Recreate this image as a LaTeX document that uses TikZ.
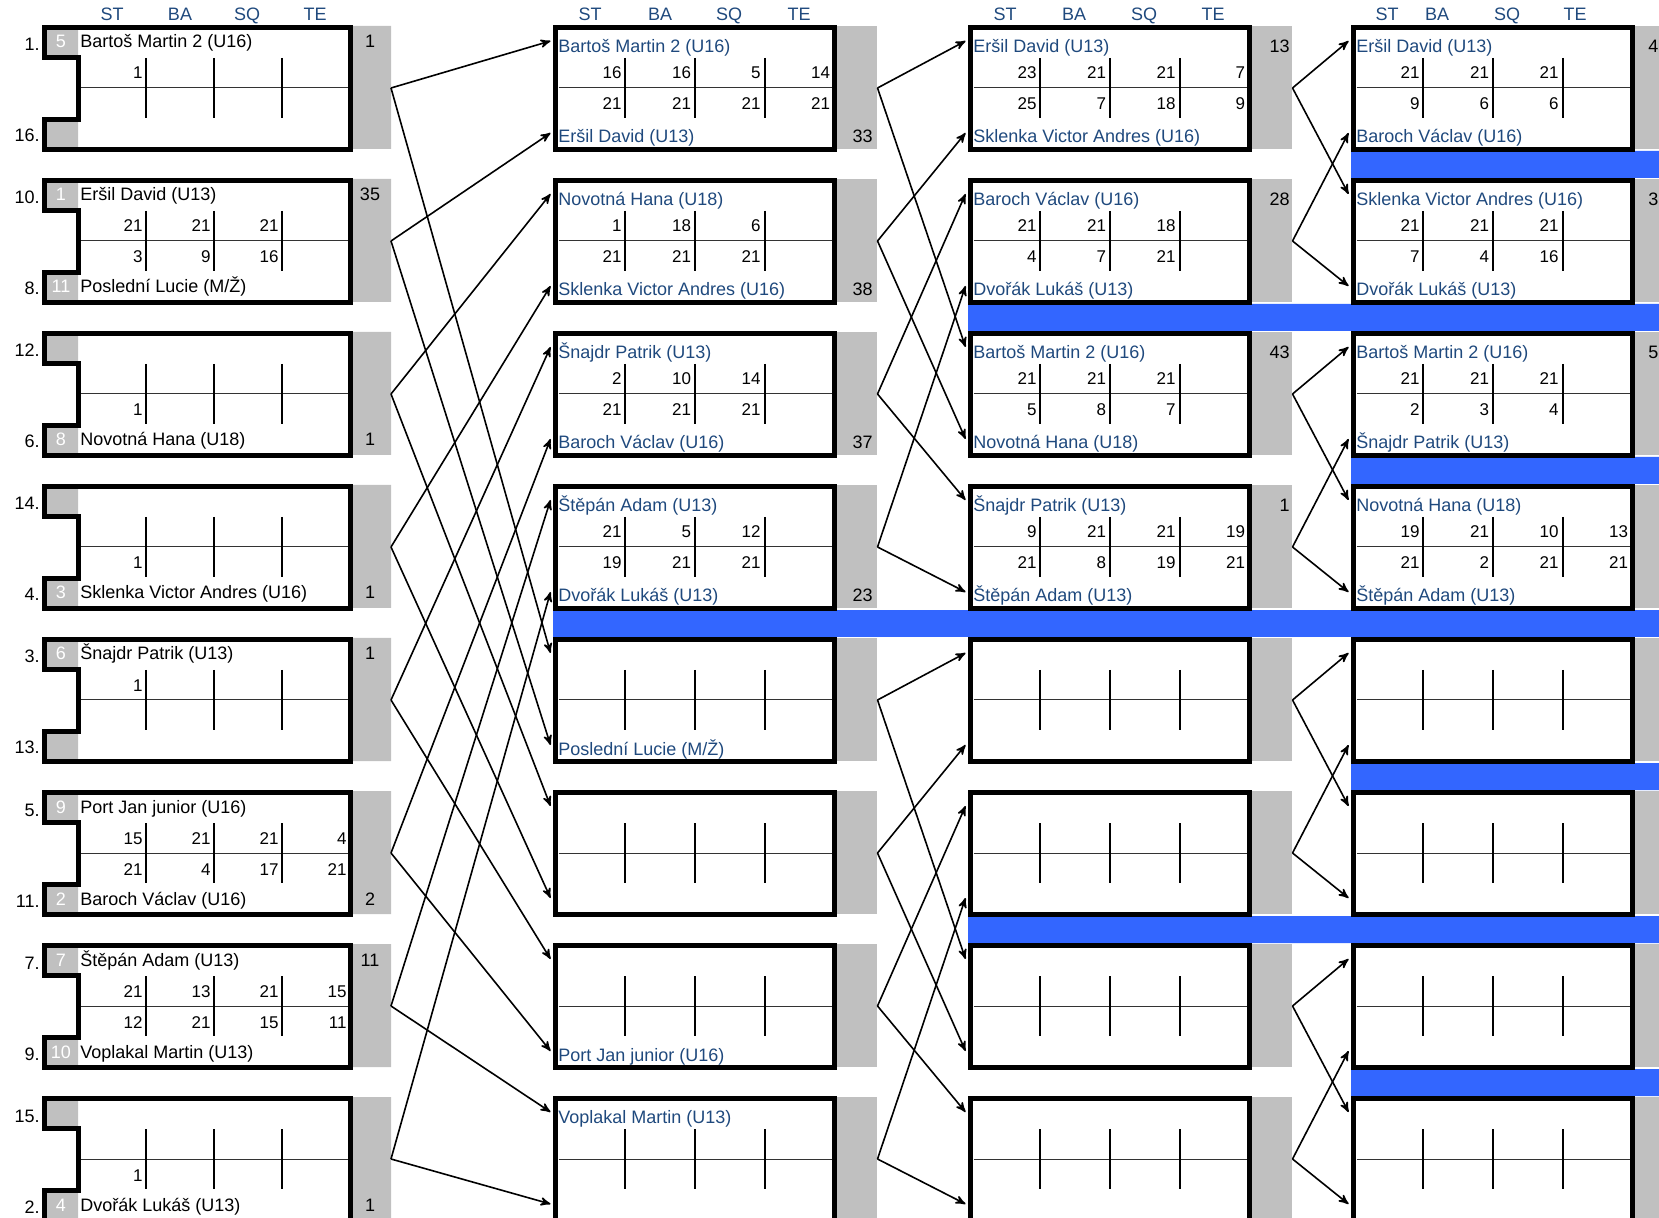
\documentclass[tikz,border=0pt]{standalone}
\usepackage{fontspec}
\setmainfont{Liberation Sans}
\usepackage{tikz}
\usetikzlibrary{arrows}

\definecolor{bandblue}{RGB}{51,102,255}
\definecolor{nameblue}{RGB}{31,73,125}
\definecolor{cellgrey}{RGB}{192,192,192}

% first round box with the notch: name, top, row no, seed, player (upper), row no, seed, player (lower)
\newcommand{\firstbox}[8]{%
 \begin{scope}[shift={(0,#2)}]
  \fill[cellgrey] (353,1) rectangle (391,124)
   (44.5,2.5) rectangle (78,32.5) (44.5,94.5) rectangle (78,124.5);
  \draw[midline] (76,63) -- (348,63);
  \draw[settick] (146,33) -- (146,93) (214,33) -- (214,93) (282,33) -- (282,93);
  \draw[boxframe] (44.5,2.5) -- (350.5,2.5) -- (350.5,124.5) -- (44.5,124.5)
   -- (44.5,94.5) -- (78.5,94.5) -- (78.5,32.5) -- (44.5,32.5) -- cycle;
  \node[rowno] (#1-ra) at (40,26) {#3};
  \node[seedno] (#1-sa) at (61,23) {#4};
  \node[player] (#1-a) at (80,23) {#5};
  \node[rowno] (#1-rb) at (40,117) {#6};
  \node[seedno] (#1-sb) at (61,115) {#7};
  \node[player] (#1-b) at (80,115) {#8};
  \coordinate (#1-out) at (391,63);
 \end{scope}}

% later rounds: name, left, top, upper player, lower player
\newcommand{\roundbox}[5]{%
 \begin{scope}[shift={(#2,#3)}]
  \fill[cellgrey] (281.5,1) rectangle (321.5,124);
  \draw[midline] (3,63) -- (277,63);
  \draw[settick] (69.5,33) -- (69.5,93) (139.5,33) -- (139.5,93) (209.5,33) -- (209.5,93);
  \draw[boxframe] (0,2.5) rectangle (279,124.5);
  \node[player, text=nameblue] (#1-a) at (2.5,27.5) {#4};
  \node[player, text=nameblue] (#1-b) at (2.5,118) {#5};
  \coordinate (#1-in1) at (-5,16);
  \coordinate (#1-in2) at (-5,108);
  \coordinate (#1-out) at (322,63);
 \end{scope}}

% one row of set scores: name, first x, step, baseline, scores
\newcommand{\scoreline}[5]{%
 \foreach \s [count=\i] in {#5}
  \node[score] (#1-\i) at ({#2+(\i-1)*#3},#4) {\s};}

\begin{document}
\begin{tikzpicture}[x=0.5pt, y=-0.5pt, font=\fontsize{9}{11}\selectfont,
  boxframe/.style={line width=2.5pt},
  midline/.style={line width=0.5pt, black!80},
  settick/.style={line width=1pt},
  player/.style={anchor=base west, inner sep=0pt},
  seedno/.style={anchor=base, inner sep=0pt, text=white},
  rowno/.style={anchor=base east, inner sep=0pt},
  score/.style={anchor=base east, inner sep=0pt, font=\fontsize{8.5}{10}\selectfont},
  pts/.style={anchor=base, inner sep=0pt},
  colhead/.style={anchor=base, inner sep=0pt, text=nameblue},
  arrowline/.style={->, >=stealth', line width=0.8pt}]

 \path[use as bounding box] (0,0) rectangle (1659,1218);
 \clip (0,0) rectangle (1659,1218);

 % blue bands between the groups
 \fill[bandblue] (553,610) rectangle (1659,637);
 \fill[bandblue] (968,304) rectangle (1659,331)
   (968,916) rectangle (1659,943);
 \fill[bandblue] (1351,151) rectangle (1659,178)
   (1351,457) rectangle (1659,484)
   (1351,763) rectangle (1659,790)
   (1351,1069) rectangle (1659,1096);

 % column heads
 \foreach \x/\t [count=\i] in {112/ST,180/BA,247/SQ,315/TE,
   590/ST,660/BA,729/SQ,799/TE,1005/ST,1074/BA,1144/SQ,1213/TE,
   1387/ST,1437/BA,1507/SQ,1575/TE}
  \node[colhead] (head\i) at (\x,21) {\t};

 % first round
 \firstbox{c1b1}{25}{1.}{5}{Bartoš Martin 2 (U16)}{16.}{}{}
 \firstbox{c1b2}{178}{10.}{1}{Eršil David (U13)}{8.}{11}{Poslední Lucie (M/Ž)}
 \firstbox{c1b3}{331}{12.}{}{}{6.}{8}{Novotná Hana (U18)}
 \firstbox{c1b4}{484}{14.}{}{}{4.}{3}{Sklenka Victor Andres (U16)}
 \firstbox{c1b5}{637}{3.}{6}{Šnajdr Patrik (U13)}{13.}{}{}
 \firstbox{c1b6}{790}{5.}{9}{Port Jan junior (U16)}{11.}{2}{Baroch Václav (U16)}
 \firstbox{c1b7}{943}{7.}{7}{Štěpán Adam (U13)}{9.}{10}{Voplakal Martin (U13)}
 \firstbox{c1b8}{1096}{15.}{}{}{2.}{4}{Dvořák Lukáš (U13)}

 \scoreline{c1b1u}{143}{68}{25+54}{1}
 \scoreline{c1b2u}{143}{68}{178+54}{21,21,21}
 \scoreline{c1b2l}{143}{68}{178+85}{3,9,16}
 \scoreline{c1b3l}{143}{68}{331+85}{1}
 \scoreline{c1b4l}{143}{68}{484+85}{1}
 \scoreline{c1b5u}{143}{68}{637+54}{1}
 \scoreline{c1b6u}{143}{68}{790+54}{15,21,21,4}
 \scoreline{c1b6l}{143}{68}{790+85}{21,4,17,21}
 \scoreline{c1b7u}{143}{68}{943+54}{21,13,21,15}
 \scoreline{c1b7l}{143}{68}{943+85}{12,21,15,11}
 \scoreline{c1b8l}{143}{68}{1096+85}{1}

 \node[pts] (c1b1-p) at (370,25+23) {1};
 \node[pts] (c1b2-p) at (370,178+23) {35};
 \node[pts] (c1b3-p) at (370,331+115) {1};
 \node[pts] (c1b4-p) at (370,484+115) {1};
 \node[pts] (c1b5-p) at (370,637+23) {1};
 \node[pts] (c1b6-p) at (370,790+115) {2};
 \node[pts] (c1b7-p) at (370,943+23) {11};
 \node[pts] (c1b8-p) at (370,1096+115) {1};

 % second round
 \roundbox{c2b1}{555.5}{25}{Bartoš Martin 2 (U16)}{Eršil David (U13)}
 \roundbox{c2b2}{555.5}{178}{Novotná Hana (U18)}{Sklenka Victor Andres (U16)}
 \roundbox{c2b3}{555.5}{331}{Šnajdr Patrik (U13)}{Baroch Václav (U16)}
 \roundbox{c2b4}{555.5}{484}{Štěpán Adam (U13)}{Dvořák Lukáš (U13)}
 \roundbox{c2b5}{555.5}{637}{}{Poslední Lucie (M/Ž)}
 \roundbox{c2b6}{555.5}{790}{}{}
 \roundbox{c2b7}{555.5}{943}{}{Port Jan junior (U16)}
 \roundbox{c2b8}{555.5}{1096}{Voplakal Martin (U13)}{}

 \scoreline{c2b1u}{622}{69.5}{25+54}{16,16,5,14}
 \scoreline{c2b1l}{622}{69.5}{25+85}{21,21,21,21}
 \scoreline{c2b2u}{622}{69.5}{178+54}{1,18,6}
 \scoreline{c2b2l}{622}{69.5}{178+85}{21,21,21}
 \scoreline{c2b3u}{622}{69.5}{331+54}{2,10,14}
 \scoreline{c2b3l}{622}{69.5}{331+85}{21,21,21}
 \scoreline{c2b4u}{622}{69.5}{484+54}{21,5,12}
 \scoreline{c2b4l}{622}{69.5}{484+85}{19,21,21}

 \node[pts, anchor=base east] (c2b1-p) at (873,25+118) {33};
 \node[pts, anchor=base east] (c2b2-p) at (873,178+118) {38};
 \node[pts, anchor=base east] (c2b3-p) at (873,331+118) {37};
 \node[pts, anchor=base east] (c2b4-p) at (873,484+118) {23};

 % third round
 \roundbox{c3b1}{970.5}{25}{Eršil David (U13)}{Sklenka Victor Andres (U16)}
 \roundbox{c3b2}{970.5}{178}{Baroch Václav (U16)}{Dvořák Lukáš (U13)}
 \roundbox{c3b3}{970.5}{331}{Bartoš Martin 2 (U16)}{Novotná Hana (U18)}
 \roundbox{c3b4}{970.5}{484}{Šnajdr Patrik (U13)}{Štěpán Adam (U13)}
 \roundbox{c3b5}{970.5}{637}{}{}
 \roundbox{c3b6}{970.5}{790}{}{}
 \roundbox{c3b7}{970.5}{943}{}{}
 \roundbox{c3b8}{970.5}{1096}{}{}

 \scoreline{c3b1u}{1037}{69.5}{25+54}{23,21,21,7}
 \scoreline{c3b1l}{1037}{69.5}{25+85}{25,7,18,9}
 \scoreline{c3b2u}{1037}{69.5}{178+54}{21,21,18}
 \scoreline{c3b2l}{1037}{69.5}{178+85}{4,7,21}
 \scoreline{c3b3u}{1037}{69.5}{331+54}{21,21,21}
 \scoreline{c3b3l}{1037}{69.5}{331+85}{5,8,7}
 \scoreline{c3b4u}{1037}{69.5}{484+54}{9,21,21,19}
 \scoreline{c3b4l}{1037}{69.5}{484+85}{21,8,19,21}

 \node[pts, anchor=base east] (c3b1-p) at (1290,25+27.5) {13};
 \node[pts, anchor=base east] (c3b2-p) at (1290,178+27.5) {28};
 \node[pts, anchor=base east] (c3b3-p) at (1290,331+27.5) {43};
 \node[pts, anchor=base east] (c3b4-p) at (1290,484+27.5) {1};

 % fourth round
 \roundbox{c4b1}{1353.5}{25}{Eršil David (U13)}{Baroch Václav (U16)}
 \roundbox{c4b2}{1353.5}{178}{Sklenka Victor Andres (U16)}{Dvořák Lukáš (U13)}
 \roundbox{c4b3}{1353.5}{331}{Bartoš Martin 2 (U16)}{Šnajdr Patrik (U13)}
 \roundbox{c4b4}{1353.5}{484}{Novotná Hana (U18)}{Štěpán Adam (U13)}
 \roundbox{c4b5}{1353.5}{637}{}{}
 \roundbox{c4b6}{1353.5}{790}{}{}
 \roundbox{c4b7}{1353.5}{943}{}{}
 \roundbox{c4b8}{1353.5}{1096}{}{}

 \scoreline{c4b1u}{1420}{69.5}{25+54}{21,21,21}
 \scoreline{c4b1l}{1420}{69.5}{25+85}{9,6,6}
 \scoreline{c4b2u}{1420}{69.5}{178+54}{21,21,21}
 \scoreline{c4b2l}{1420}{69.5}{178+85}{7,4,16}
 \scoreline{c4b3u}{1420}{69.5}{331+54}{21,21,21}
 \scoreline{c4b3l}{1420}{69.5}{331+85}{2,3,4}
 \scoreline{c4b4u}{1420}{69.5}{484+54}{19,21,10,13}
 \scoreline{c4b4l}{1420}{69.5}{484+85}{21,2,21,21}

 \node[pts, anchor=base west] (c4b1-p) at (1648,25+27.5) {4};
 \node[pts, anchor=base west] (c4b2-p) at (1648,178+27.5) {3};
 \node[pts, anchor=base west] (c4b3-p) at (1648,331+27.5) {5};

 % winner and loser of each box go on
 \foreach \a/\b/\c in {c1b1/c2b1-in1/c2b5-in1, c1b2/c2b1-in2/c2b5-in2,
   c1b3/c2b2-in1/c2b6-in1, c1b4/c2b2-in2/c2b6-in2,
   c1b5/c2b3-in1/c2b7-in1, c1b6/c2b3-in2/c2b7-in2,
   c1b7/c2b4-in1/c2b8-in1, c1b8/c2b4-in2/c2b8-in2,
   c2b1/c3b1-in1/c3b3-in1, c2b2/c3b1-in2/c3b3-in2,
   c2b3/c3b2-in1/c3b4-in1, c2b4/c3b2-in2/c3b4-in2,
   c2b5/c3b5-in1/c3b7-in1, c2b6/c3b5-in2/c3b7-in2,
   c2b7/c3b6-in1/c3b8-in1, c2b8/c3b6-in2/c3b8-in2,
   c3b1/c4b1-in1/c4b2-in1, c3b2/c4b1-in2/c4b2-in2,
   c3b3/c4b3-in1/c4b4-in1, c3b4/c4b3-in2/c4b4-in2,
   c3b5/c4b5-in1/c4b6-in1, c3b6/c4b5-in2/c4b6-in2,
   c3b7/c4b7-in1/c4b8-in1, c3b8/c4b7-in2/c4b8-in2}
  {\draw[arrowline] (\a-out) -- (\b);
   \draw[arrowline] (\a-out) -- (\c);}

\end{tikzpicture}
\end{document}
